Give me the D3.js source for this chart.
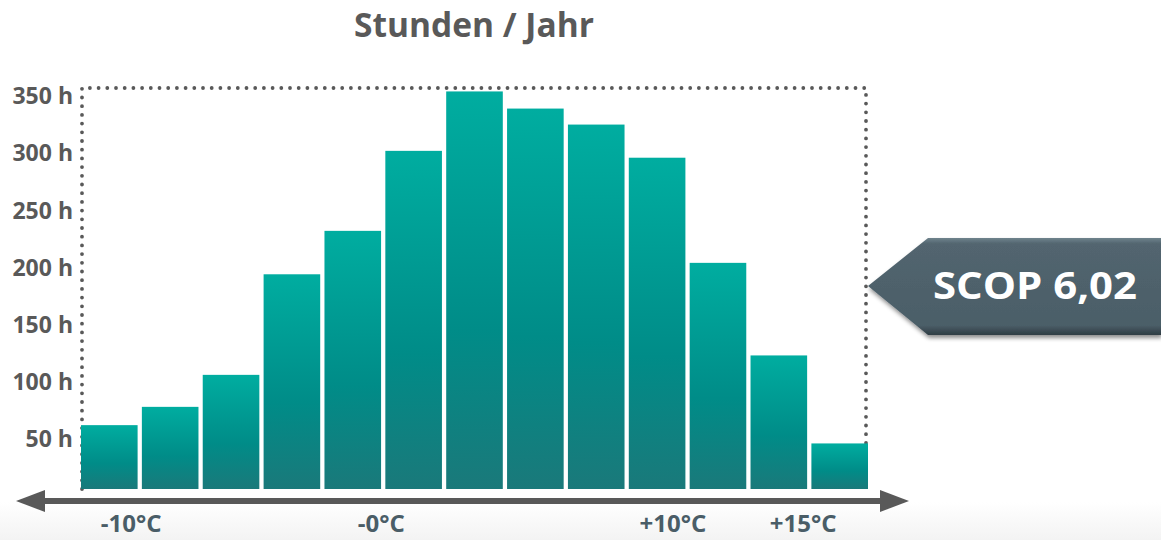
<!DOCTYPE html>
<html>
<head>
<meta charset="utf-8">
<script src="https://cdn.jsdelivr.net/npm/d3@7"></script>
<style>
  body { margin: 0; background: #fff; }
  svg { display: block; }
  text { font-family: "Open Sans", sans-serif; font-weight: 700; }
</style>
</head>
<body>
<div class="chart"></div>
<script>
// hours per year for each temperature bin (left = cold)
var bins = ["b1", "b2", "b3", "b4", "b5", "b6", "b7", "b8", "b9", "b10", "b11", "b12", "b13"];
var hours = [62, 78, 106, 194, 232, 302, 354, 339, 325, 296, 204, 123, 46];

var yTicks = [50, 100, 150, 200, 250, 300, 350];

// temperature labels, placed at fractional bin index
var tempLabels = ["-10°C", "-0°C", "+10°C", "+15°C"];
var tempAt = [0.36, 4.47, 9.26, 11.4];

var title = "Stunden / Jahr";
var scopText = "SCOP 6,02";

var width = 1161, height = 540;

var svg = d3.select(".chart")
    .append("svg")
    .attr("width", width)
    .attr("height", height);

var defs = svg.append("defs");

// slight grey at the bottom of the page
var bg = defs.append("linearGradient")
    .attr("id", "bg")
    .attr("x1", 0).attr("y1", 0).attr("x2", 0).attr("y2", 1);
bg.append("stop").attr("offset", "0.93").attr("stop-color", "#ffffff");
bg.append("stop").attr("offset", "1").attr("stop-color", "#f3f3f3");

svg.append("rect")
    .attr("width", width)
    .attr("height", height)
    .style("fill", "url(#bg)");

var barGrad = defs.append("linearGradient")
    .attr("id", "barGrad")
    .attr("x1", 0).attr("y1", 0).attr("x2", 0).attr("y2", 1);
barGrad.append("stop").attr("offset", "0").attr("stop-color", "#00ada0");
barGrad.append("stop").attr("offset", "0.6").attr("stop-color", "#008c88");
barGrad.append("stop").attr("offset", "1").attr("stop-color", "#1a797a");

var x = d3.scaleBand()
    .domain(bins)
    .range([81, 868])
    .paddingInner(0.07)
    .paddingOuter(0);

var y = d3.scaleLinear()
    .domain([0, 350])
    .range([496, 96]);

var baseline = 489;

// title
svg.append("text")
    .attr("x", 474)
    .attr("y", 37)
    .attr("text-anchor", "middle")
    .style("font-size", "33.5px")
    .style("fill", "#595959")
    .text(title);

// dotted frame
svg.append("path")
    .attr("d", "M82," + baseline + "V88H866V" + baseline)
    .style("fill", "none")
    .style("stroke", "#595959")
    .style("stroke-width", 3.8)
    .style("stroke-linecap", "round")
    .style("stroke-dasharray", "0 8.7");

// y labels
svg.append("g")
    .selectAll("text")
    .data(yTicks)
    .enter().append("text")
    .attr("x", 73)
    .attr("y", function(d) { return y(d); })
    .attr("dy", "0.36em")
    .attr("text-anchor", "end")
    .style("font-size", "23px")
    .style("fill", "#595959")
    .text(function(d) { return d + " h"; });

// bars
svg.append("g")
    .selectAll("rect")
    .data(hours)
    .enter().append("rect")
    .attr("x", function(d, i) { return x(bins[i]); })
    .attr("y", function(d) { return y(d); })
    .attr("width", x.bandwidth())
    .attr("height", function(d) { return baseline - y(d); })
    .style("fill", "url(#barGrad)");

// double arrow axis
var axisY = 501;
svg.append("line")
    .attr("x1", 40).attr("x2", 884)
    .attr("y1", axisY).attr("y2", axisY)
    .style("stroke", "#595959")
    .style("stroke-width", 6);
svg.append("path")
    .attr("d", "M16," + axisY + "L45," + (axisY - 11) + "V" + (axisY + 11) + "Z")
    .style("fill", "#595959");
svg.append("path")
    .attr("d", "M909," + axisY + "L880," + (axisY - 11) + "V" + (axisY + 11) + "Z")
    .style("fill", "#595959");

// temperature labels
var idx = d3.scaleLinear()
    .domain([0, bins.length - 1])
    .range([x(bins[0]) + x.bandwidth() / 2, x(bins[bins.length - 1]) + x.bandwidth() / 2]);

svg.append("g")
    .selectAll("text")
    .data(tempLabels)
    .enter().append("text")
    .attr("x", function(d, i) { return idx(tempAt[i]); })
    .attr("y", 532)
    .attr("text-anchor", "middle")
    .style("font-size", "24px")
    .style("fill", "#4a5d67")
    .text(function(d) { return d; });

// SCOP callout
var sg = defs.append("linearGradient")
    .attr("id", "scopGrad")
    .attr("x1", 0).attr("y1", 0).attr("x2", 0).attr("y2", 1);
sg.append("stop").attr("offset", "0").attr("stop-color", "#6f838d");
sg.append("stop").attr("offset", "0.06").attr("stop-color", "#52656f");
sg.append("stop").attr("offset", "0.9").attr("stop-color", "#4b5e68");
sg.append("stop").attr("offset", "1").attr("stop-color", "#2f3d44");

var shadow = defs.append("filter")
    .attr("id", "shadow")
    .attr("x", "-10%").attr("y", "-10%")
    .attr("width", "130%").attr("height", "140%");
shadow.append("feDropShadow")
    .attr("dx", 1).attr("dy", 3)
    .attr("stdDeviation", 2)
    .attr("flood-color", "#000")
    .attr("flood-opacity", 0.45);

svg.append("path")
    .attr("d", "M868,286L928,238H1161V335H928Z")
    .style("fill", "url(#scopGrad)")
    .attr("filter", "url(#shadow)");

svg.append("text")
    .attr("x", 1035)
    .attr("y", 299)
    .attr("text-anchor", "middle")
    .attr("textLength", 204)
    .attr("lengthAdjust", "spacingAndGlyphs")
    .style("font-size", "37px")
    .style("fill", "#ffffff")
    .text(scopText);
</script>
</body>
</html>
